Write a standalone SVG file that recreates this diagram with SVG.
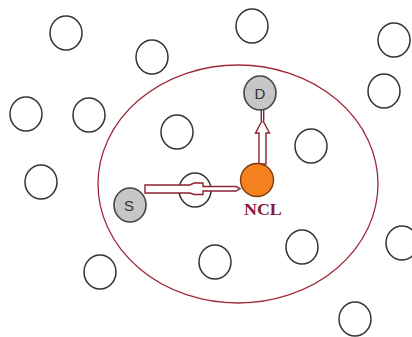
<svg xmlns="http://www.w3.org/2000/svg" width="412" height="337" viewBox="0 0 412 337">
<style>
.n{fill:#fff;stroke:#333;stroke-width:1.5}
.g{fill:#c6c6c6;stroke:#444;stroke-width:1.6}
.a{fill:#fff;stroke:#8b2232;stroke-width:1.4;stroke-linejoin:miter}
.t{font-family:"Liberation Sans",Arial,sans-serif;font-size:15px;fill:#333;text-anchor:middle}
</style>
<rect width="412" height="337" fill="#fff"/>
<g id="range"><ellipse cx="238" cy="184" rx="140" ry="119" fill="none" stroke="#a02a3a" stroke-width="1.3"/></g>
<g id="nodes">
<ellipse id="n1" class="n" cx="66" cy="33" rx="16" ry="17"/>
<ellipse id="n2" class="n" cx="152" cy="57" rx="16" ry="17"/>
<ellipse id="n3" class="n" cx="252" cy="26" rx="16" ry="17"/>
<ellipse id="n4" class="n" cx="394" cy="40" rx="16" ry="17"/>
<ellipse id="n5" class="n" cx="26" cy="114" rx="16" ry="17"/>
<ellipse id="n6" class="n" cx="89" cy="115" rx="16" ry="17"/>
<ellipse id="n7" class="n" cx="384" cy="91" rx="16" ry="17"/>
<ellipse id="n8" class="n" cx="177" cy="132" rx="16" ry="17"/>
<ellipse id="n9" class="n" cx="311" cy="146" rx="16" ry="17"/>
<ellipse id="n10" class="n" cx="41" cy="182" rx="16" ry="17"/>
<ellipse id="n11" class="n" cx="195" cy="190" rx="16" ry="17"/>
<ellipse id="n12" class="n" cx="302" cy="247" rx="16" ry="17"/>
<ellipse id="n13" class="n" cx="215" cy="262" rx="16" ry="17"/>
<ellipse id="n14" class="n" cx="100" cy="272" rx="16" ry="17"/>
<ellipse id="n15" class="n" cx="402" cy="243" rx="16" ry="17"/>
<ellipse id="n16" class="n" cx="355" cy="319" rx="16" ry="17"/>
</g>
<g id="connectors">
<path class="a" d="M145,185 H190 L194,183 H203 V186.5 H236 L240,188.5 L236,191 H203 V194.5 H194 L190,193 H145 Z"/>
<path class="a" d="M259,164 V133 H255.5 L262.5,120 L269.5,133 H266 V164 Z"/>
<path class="a" d="M261.3,121 V104 H263.7 V121"/>
</g>
<g id="D"><ellipse class="g" cx="260" cy="93" rx="16" ry="17"/><text class="t" x="260" y="99">D</text></g>
<g id="S"><ellipse class="g" cx="130" cy="205" rx="16" ry="17"/><text class="t" x="129" y="210.5">S</text></g>
<g id="NCL"><circle cx="257" cy="180" r="16.5" fill="#f5821f" stroke="#7a3a10" stroke-width="1.4"/>
<text transform="translate(244,214.5) scale(1.12,1)" font-family="'Liberation Serif','Times New Roman',serif" font-weight="bold" font-size="16" fill="#8b1a3a">NCL</text></g>
</svg>
